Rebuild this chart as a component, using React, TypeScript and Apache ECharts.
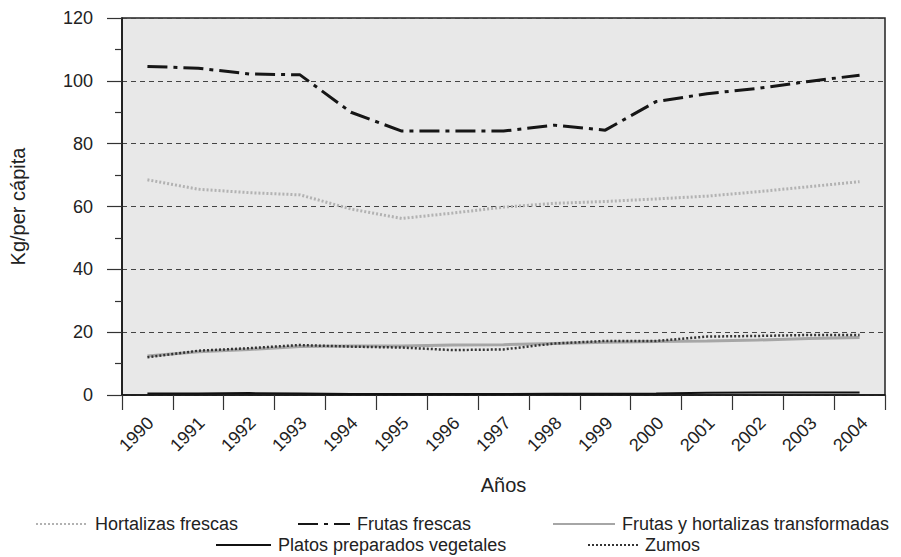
import React, { useEffect, useRef } from "react";
import * as echarts from "echarts";

const years = ["1990","1991","1992","1993","1994","1995","1996","1997","1998","1999","2000","2001","2002","2003","2004"];
const hortalizasFrescas = [68.5, 65.5, 64.4, 63.7, 59.2, 56.2, 57.9, 59.8, 61.0, 61.6, 62.4, 63.3, 64.7, 66.3, 67.9];
const frutasFrescas = [104.6, 104.0, 102.2, 101.9, 90.0, 84.0, 84.0, 84.0, 85.9, 84.3, 93.4, 95.9, 97.6, 99.8, 101.8];
const transformadas = [12.4, 13.8, 14.5, 15.4, 15.6, 15.6, 15.9, 16.0, 16.4, 16.8, 17.0, 17.2, 17.5, 18.0, 18.3];
const platos = [0.5, 0.5, 0.6, 0.5, 0.3, 0.3, 0.3, 0.3, 0.4, 0.4, 0.5, 0.7, 0.8, 0.8, 0.8];
const zumos = [12.0, 14.1, 14.9, 15.9, 15.4, 15.1, 14.3, 14.5, 16.4, 17.2, 17.2, 18.6, 18.8, 19.1, 19.1];

const yTicks = { min: 0, max: 120, interval: 20 };
const names = {
  hf: "Hortalizas frescas",
  ff: "Frutas frescas",
  tr: "Frutas y hortalizas transformadas",
  pl: "Platos preparados vegetales",
  zu: "Zumos",
};

const FONT = '"Liberation Sans", Arial, Helvetica, sans-serif';
const TXT = "#222";

export default function App() {
  const ref = useRef<HTMLDivElement>(null);
  useEffect(() => {
    if (!ref.current) return;
    const chart = echarts.init(ref.current, undefined, { renderer: "svg" });
    const legendText = { color: TXT, fontSize: 18, fontFamily: FONT, padding: [0, 0, 0, 2] };
    const mkLegend = (name: string, left: number, top: number, w: number) => ({
      data: [name],
      left,
      top,
      itemWidth: w,
      itemHeight: 12,
      itemStyle: { opacity: 0 },
      textStyle: legendText,
      selectedMode: false,
    });
    chart.setOption({
      animation: false,
      backgroundColor: "#ffffff",
      textStyle: { fontFamily: FONT },
      grid: [
        { left: 120, right: 16, top: 18, bottom: 162, show: true, backgroundColor: "#e8e8e8", borderColor: "#222", borderWidth: 1.5 },
        { left: 125, right: 11, top: 18, bottom: 162, show: false },
      ],
      xAxis: [
        {
          type: "category",
          data: years,
          gridIndex: 0,
          boundaryGap: true,
          axisLine: { show: true, lineStyle: { color: "#111", width: 1.5 } },
          axisTick: { show: true, length: 15, interval: 0, lineStyle: { color: "#333", width: 1.2 } },
          axisLabel: { show: false },
          name: "Años",
          nameLocation: "middle",
          nameGap: 80,
          nameTextStyle: { color: TXT, fontSize: 20, fontFamily: FONT },
        },
        {
          type: "category",
          data: years,
          gridIndex: 1,
          boundaryGap: true,
          axisLine: { show: false },
          axisTick: { show: false },
          axisLabel: { show: true, interval: 0, rotate: 45, margin: 25, color: TXT, fontSize: 18, fontFamily: FONT },
        },
      ],
      yAxis: [
        {
          type: "value",
          gridIndex: 0,
          min: yTicks.min,
          max: yTicks.max,
          interval: yTicks.interval,
          axisLine: { show: true, lineStyle: { color: "#111", width: 1.5 } },
          axisTick: { show: true, length: 15, lineStyle: { color: "#333", width: 1.2 } },
          minorTick: { show: true, splitNumber: 2, length: 7, lineStyle: { color: "#333", width: 1.2 } },
          axisLabel: { margin: 29, color: TXT, fontSize: 18, fontFamily: FONT },
          splitLine: { show: true, lineStyle: { color: "#444", width: 1, type: [5, 4] } },
          name: "Kg/per cápita",
          nameLocation: "middle",
          nameGap: 94,
          nameTextStyle: { color: TXT, fontSize: 20, fontFamily: FONT },
        },
        { type: "value", gridIndex: 1, show: false, min: 0, max: 120 },
      ],
      legend: [
        mkLegend(names.hf, 30, 510, 52),
        mkLegend(names.ff, 292, 510, 52),
        mkLegend(names.tr, 547, 510, 62),
        mkLegend(names.pl, 210, 531, 55),
        mkLegend(names.zu, 582, 531, 50),
      ],
      series: [
        {
          name: names.hf, type: "line", data: hortalizasFrescas, showSymbol: false, symbol: "none",
          lineStyle: { color: "#b2b2b2", width: 3, type: [2, 2] }, itemStyle: { color: "#b2b2b2" }, z: 3,
        },
        {
          name: names.ff, type: "line", data: frutasFrescas, showSymbol: false, symbol: "none",
          lineStyle: { color: "#161616", width: 3, type: [20, 6, 4, 6] }, itemStyle: { color: "#161616" }, z: 4,
        },
        {
          name: names.tr, type: "line", data: transformadas, showSymbol: false, symbol: "none",
          lineStyle: { color: "#a6a6a6", width: 3 }, itemStyle: { color: "#a6a6a6" }, z: 3,
        },
        {
          name: names.pl, type: "line", data: platos, showSymbol: false, symbol: "none",
          lineStyle: { color: "#111", width: 2 }, itemStyle: { color: "#111" }, z: 4,
        },
        {
          name: names.zu, type: "line", data: zumos, showSymbol: false, symbol: "none",
          lineStyle: { color: "#333", width: 2.5, type: [2, 2] }, itemStyle: { color: "#333" }, z: 4,
        },
      ],
    });
    return () => chart.dispose();
  }, []);
  return <div ref={ref} style={{ position: "fixed", left: 0, top: 0, width: 901, height: 557 }} />;
}
